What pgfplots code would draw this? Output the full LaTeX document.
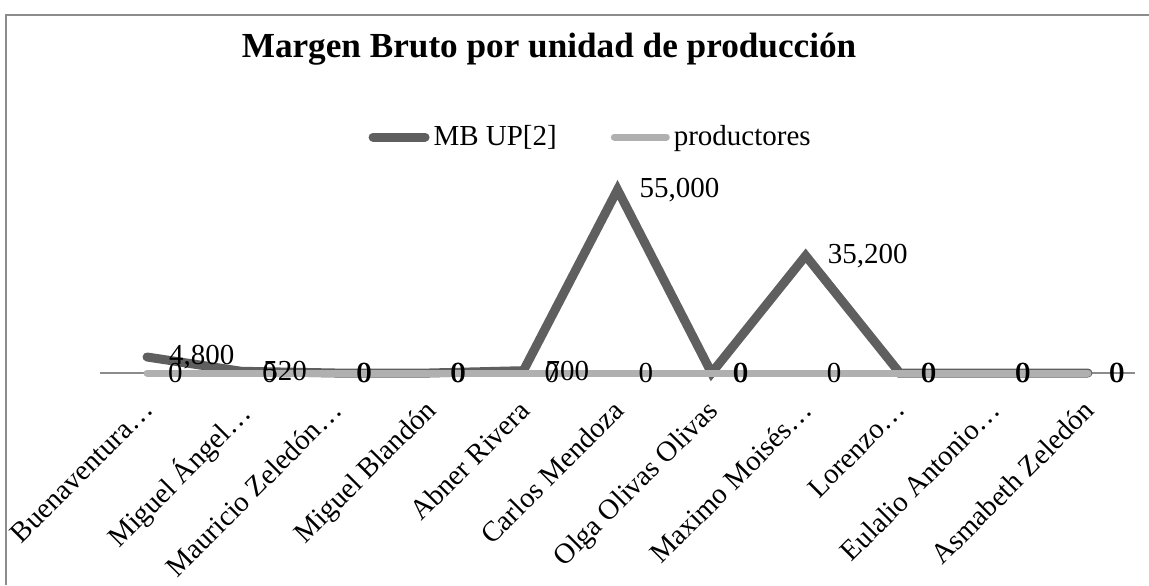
\documentclass[border=0pt]{standalone}
\usepackage{pgfplots}
\pgfplotsset{compat=1.18}
\usepackage{fontspec}
\setmainfont{Liberation Serif}
\definecolor{mbcol}{HTML}{5F5F5F}
\definecolor{prodcol}{HTML}{B0B0B0}
\definecolor{framecol}{HTML}{8C8C8C}
\begin{document}
\begin{tikzpicture}
\useasboundingbox (0,0) rectangle (574.5pt,292.5pt);
\draw[framecol, line width=0.8pt] (3pt,0pt) -- (3pt,285pt) -- (574.5pt,285pt);
\node[font=\fontsize{17.6pt}{20pt}\selectfont\bfseries] at (274.5pt,268pt) {Margen Bruto por unidad de producción};
\begin{axis}[
  at={(50pt,106pt)}, anchor=south west,
  scale only axis, width=517.5pt, height=100pt,
  xmin=-0.5, xmax=10.5, ymin=0, ymax=60000,
  clip=false,
  axis x line*=bottom, axis y line=none,
  x axis line style={draw=framecol, line width=0.6pt, -},
  xtick={0,...,10},
  major tick length=0pt,
  xticklabels={Buenaventura…,Miguel Ángel…,Mauricio Zeledón…,Miguel Blandón,Abner Rivera,Carlos Mendoza,Olga Olivas Olivas,Maximo Moisés…,Lorenzo…,Eulalio Antonio…,Asmabeth Zeledón},
  xticklabel style={xshift=-3pt, yshift=-11pt, rotate=45, anchor=north east, font=\fontsize{14.3pt}{16pt}\selectfont, inner sep=1pt},
  nodes near coords,
  nodes near coords align={right},
  every node near coord/.append style={font=\fontsize{14.5pt}{16pt}\selectfont, xshift=5.5pt, text=black},
  /pgf/number format/1000 sep={,},
  /pgf/number format/assume math mode=true,
  legend style={at={(0.475,1.18)}, anchor=center, draw=none, fill=none, legend columns=2,
    font=\fontsize{14.5pt}{16pt}\selectfont,
    /tikz/every even column/.append style={column sep=25pt}},
  legend image code/.code={\draw[#1, line cap=round] (0pt,0pt) -- (26pt,0pt);},
]
\addplot[mbcol, line width=4.5pt, line cap=round, line join=miter, mark=none] coordinates {
(0,4800) (1,520) (2,0) (3,0) (4,700) (5,55000) (6,0) (7,35200) (8,0) (9,0) (10,0)};
\addlegendentry{MB UP[2]}
\addplot[prodcol, line width=3.5pt, line cap=round, mark=none] coordinates {
(0,0) (1,0) (2,0) (3,0) (4,0) (5,0) (6,0) (7,0) (8,0) (9,0) (10,0)};
\addlegendentry{productores}
\end{axis}
\end{tikzpicture}
\end{document}
